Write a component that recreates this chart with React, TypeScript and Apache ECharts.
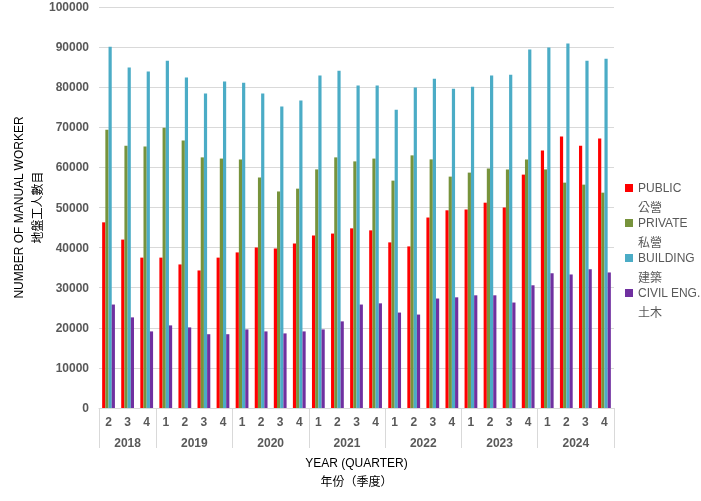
import React, { useEffect, useRef } from "react";
import * as echarts from "echarts";

const quarterLabels = [
  "2", "3", "4",
  "1", "2", "3", "4",
  "1", "2", "3", "4",
  "1", "2", "3", "4",
  "1", "2", "3", "4",
  "1", "2", "3", "4",
  "1", "2", "3", "4",
];
const years = ["2018", "2019", "2020", "2021", "2022", "2023", "2024"];
const quartersPerYear = [3, 4, 4, 4, 4, 4, 4];

const seriesNames = ["PUBLIC\n公營", "PRIVATE\n私營", "BUILDING\n建築", "CIVIL ENG.\n土木"];

const publicWorkers = [46300, 42000, 37500, 37500, 35800, 34300, 37500, 38800, 40000, 39800, 41000, 43000, 43500, 44800, 44300, 41300, 40300, 47500, 49300, 49500, 51200, 50000, 58200, 64200, 67700, 65400, 67200];
const privateWorkers = [69400, 65400, 65200, 69900, 66700, 62500, 62200, 62000, 57500, 54000, 54700, 59500, 62500, 61500, 62200, 56700, 63000, 62000, 57700, 58700, 59700, 59500, 62000, 59500, 56200, 55700, 53700];
const buildingWorkers = [90100, 84900, 83900, 86600, 82400, 78400, 81400, 81100, 78400, 75200, 76700, 82900, 84100, 80400, 80400, 74400, 79900, 82100, 79600, 80100, 82900, 83100, 89400, 89900, 90900, 86600, 87100];
const civilWorkers = [25800, 22600, 19100, 20600, 20100, 18400, 18400, 19600, 19100, 18600, 19100, 19600, 21600, 25800, 26100, 23800, 23300, 27300, 27600, 28100, 28100, 26300, 30600, 33600, 33300, 34600, 33800];

const colors = ["#FF0000", "#77933C", "#4BACC6", "#7030A0"];

const FONT = "'Liberation Sans', Arial, 'Noto Sans CJK TC', sans-serif";

// legend marker: 8x8 square aligned with the first text line of a 40px-tall item
const LEGEND_ICON = "path://M0,0h0.01M0,6h8v8h-8zM0,40h0.01";

export default function App() {
  const ref = useRef<HTMLDivElement>(null);

  useEffect(() => {
    if (!ref.current) return;
    const chart = echarts.init(ref.current, undefined, { renderer: "svg" });

    const boundaries: number[] = [0];
    quartersPerYear.forEach((n) => boundaries.push(boundaries[boundaries.length - 1] + n));
    const centers = years.map((_, i) => (boundaries[i] + boundaries[i + 1]) / 2);
    const yearAt = (v: number) => {
      const i = centers.findIndex((c) => Math.abs(c - v) < 1e-6);
      return i >= 0 ? years[i] : "";
    };

    const values = [publicWorkers, privateWorkers, buildingWorkers, civilWorkers];

    chart.setOption({
      animation: false,
      textStyle: { fontFamily: FONT },
      grid: {
        left: 99,
        right: 87,
        top: 7,
        bottom: 93,
        containLabel: false,
        outerBoundsMode: "none",
      },
      legend: {
        orient: "vertical",
        left: 620,
        top: 173,
        itemWidth: 8,
        itemHeight: 40,
        itemGap: -5,
        icon: LEGEND_ICON,
        data: seriesNames,
        textStyle: {
          fontFamily: FONT,
          fontSize: 12,
          color: "#595959",
          lineHeight: 20,
        },
      },
      xAxis: [
        {
          type: "category",
          data: quarterLabels,
          position: "bottom",
          axisLine: { show: true, lineStyle: { color: "#d9d9d9", width: 1 } },
          axisTick: { show: false },
          axisLabel: {
            interval: 0,
            margin: 8,
            fontSize: 12,
            fontWeight: "bold",
            color: "#595959",
            fontFamily: FONT,
          },
          name: "YEAR (QUARTER)\n年份（季度）",
          nameLocation: "middle",
          nameGap: 45,
          nameMoveOverlap: false,
          nameTextStyle: {
            fontSize: 12,
            color: "#000000",
            lineHeight: 19,
            fontFamily: FONT,
          },
        },
        {
          type: "value",
          min: 0,
          max: quarterLabels.length,
          position: "bottom",
          axisLine: { show: false },
          splitLine: { show: false },
          axisTick: {
            show: true,
            customValues: boundaries,
            length: 40,
            lineStyle: { color: "#d9d9d9", width: 1 },
          },
          axisLabel: {
            customValues: centers,
            formatter: (v: number) => yearAt(v),
            margin: 29,
            fontSize: 12,
            fontWeight: "bold",
            color: "#595959",
            fontFamily: FONT,
          },
        },
      ],
      yAxis: {
        type: "value",
        min: 0,
        max: 100000,
        interval: 10000,
        axisLine: { show: false },
        axisTick: { show: false },
        splitLine: { lineStyle: { color: "#d9d9d9", width: 1 } },
        axisLabel: {
          margin: 10,
          fontSize: 12,
          fontWeight: "bold",
          color: "#595959",
          fontFamily: FONT,
          formatter: (v: number) => String(v),
        },
        name: "NUMBER OF MANUAL WORKER\n地盤工人數目",
        nameLocation: "middle",
        nameGap: 52,
        nameMoveOverlap: false,
        nameRotate: 90,
        nameTextStyle: {
          fontSize: 12,
          color: "#000000",
          lineHeight: 19,
          fontFamily: FONT,
        },
      },
      series: seriesNames.map((name, i) => ({
        name,
        type: "bar",
        xAxisIndex: 0,
        data: values[i],
        itemStyle: { color: colors[i] },
        barGap: "0%",
        barCategoryGap: "33%",
      })),
    });

    return () => chart.dispose();
  }, []);

  return (
    <div
      ref={ref}
      style={{ position: "fixed", left: 0, top: 0, width: 701, height: 501 }}
    />
  );
}
